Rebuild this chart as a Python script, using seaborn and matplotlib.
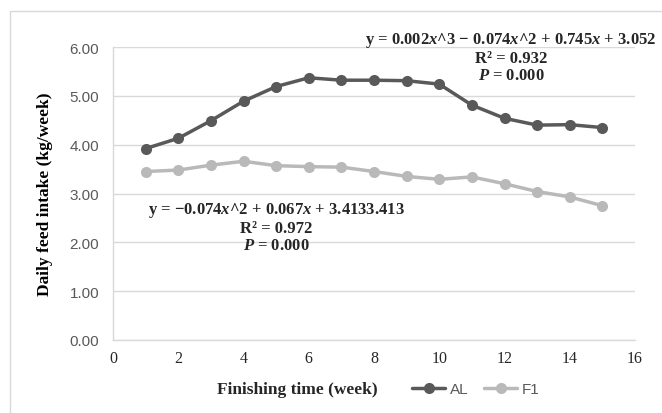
import matplotlib
matplotlib.use('Agg')
import matplotlib.pyplot as plt
import seaborn as sns
import pandas as pd
from matplotlib.patches import Rectangle

# data
weeks = list(range(1, 16))
al_intake = [3.92, 4.13, 4.49, 4.89, 5.19, 5.37, 5.32, 5.32, 5.31, 5.24, 4.81, 4.54, 4.40, 4.41, 4.35]
f1_intake = [3.45, 3.48, 3.58, 3.66, 3.57, 3.55, 3.54, 3.45, 3.35, 3.29, 3.34, 3.20, 3.04, 2.93, 2.75]
groups = ['AL', 'F1']
y_ticks = [0, 1, 2, 3, 4, 5, 6]
x_ticks = [0, 2, 4, 6, 8, 10, 12, 14, 16]

al_eq = ('y = 0.002$\\mathbfit{x}$^3 \u2212 0.074$\\mathbfit{x}$^2 + 0.745$\\mathbfit{x}$ + 3.052\n'
         'R\u00b2 = 0.932\n$\\mathbfit{P}$ = 0.000')
f1_eq = ('y = \u22120.074$\\mathbfit{x}$^2 + 0.067$\\mathbfit{x}$ + 3.4133.413\n'
         'R\u00b2 = 0.972\n$\\mathbfit{P}$ = 0.000')

df = pd.DataFrame({
    'week': weeks * 2,
    'intake': al_intake + f1_intake,
    'group': ['AL'] * len(weeks) + ['F1'] * len(weeks),
})

sns.set_style('white')
plt.rcParams['mathtext.fontset'] = 'custom'
plt.rcParams['mathtext.rm'] = 'Liberation Serif:bold'
plt.rcParams['mathtext.bfit'] = 'Liberation Serif:italic:bold'
plt.rcParams['mathtext.it'] = 'Liberation Serif:italic:bold'

colors = {'AL': '#595959', 'F1': '#b9b9b9'}
grid_c = '#d9d9d9'

fig = plt.figure(figsize=(6.62, 4.14), dpi=100)
fig.patches.append(Rectangle((10 / 662, -0.1), 1.2, 1 - 12 / 414 + 0.1,
                             transform=fig.transFigure, fill=False,
                             edgecolor=grid_c, lw=1, zorder=0))
ax = fig.add_axes([113 / 662, 1 - 341 / 414, 522 / 662, 293 / 414])

sns.lineplot(data=df, x='week', y='intake', hue='group', palette=colors,
             marker='o', markersize=8, markeredgewidth=0, linewidth=2.5,
             legend=False, ax=ax)

ax.set_xlim(0, 16)
ax.set_ylim(0, 6)
ax.set_xticks(x_ticks)
ax.set_yticks(y_ticks)
ax.set_yticklabels([f'{v:.2f}' for v in y_ticks], family='Liberation Sans',
                   fontsize=11, color='#595959')
ax.set_xticklabels([str(v) for v in x_ticks], family='Liberation Serif',
                   fontsize=11.5, color='#262626')
ax.tick_params(length=0)
ax.tick_params(axis='y', pad=10)
ax.tick_params(axis='x', pad=7)
ax.grid(axis='y', color=grid_c, lw=1)
ax.set_axisbelow(True)
for s in ['top', 'right']:
    ax.spines[s].set_visible(False)
for s in ['left', 'bottom']:
    ax.spines[s].set_color(grid_c)
    ax.spines[s].set_linewidth(1)
ax.set_xlabel('')
ax.set_ylabel('Daily feed intake (kg/week)', family='Liberation Serif',
              fontweight='bold', fontsize=12.5, color='black', labelpad=12)

ax.text(12.2, 5.8, al_eq, ha='center', va='center', family='Liberation Serif',
        fontweight='bold', fontsize=12, linespacing=1.1, clip_on=False)
ax.text(5.0, 2.33, f1_eq, ha='center', va='center', family='Liberation Serif',
        fontweight='bold', fontsize=12, linespacing=1.1)

fig.text(297 / 662, 1 - 390 / 414, 'Finishing time (week)', ha='center', va='center',
         family='Liberation Serif', fontweight='bold', fontsize=12.5)

handles = [plt.Line2D([], [], color=colors[g], lw=2.5, marker='o', markersize=8,
                      markeredgewidth=0) for g in groups]
fig.legend(handles, groups, loc='center left', bbox_to_anchor=(398 / 662, 1 - 390 / 414),
           frameon=False, ncol=2, handlelength=2.2, handletextpad=0.3, columnspacing=1.0,
           prop={'family': 'Liberation Sans', 'size': 11}, labelcolor='#595959')

fig.savefig('out.png', dpi=100)
